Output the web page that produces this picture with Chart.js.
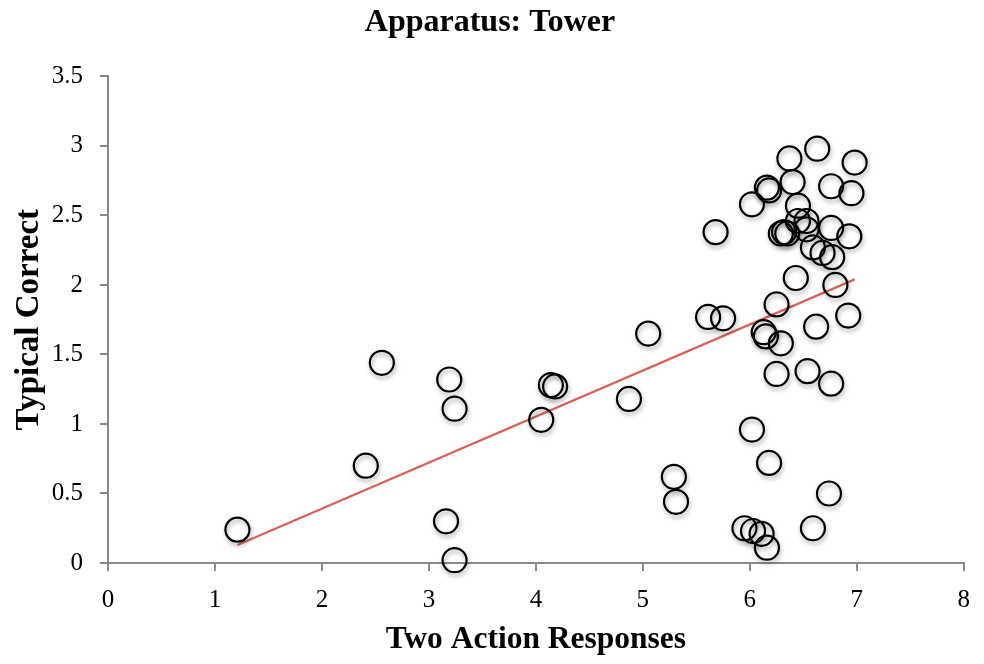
<!DOCTYPE html>
<html lang="en">
<head>
    <meta charset="UTF-8">
    <title>Apparatus: Tower</title>
    <script src="https://cdn.jsdelivr.net/npm/chart.js"></script>
    <style>
        html, body {
            margin: 0;
            padding: 0;
            background: #ffffff;
        }
        #chart {
            display: block;
        }
    </style>
</head>
<body>
    <canvas id="chart" width="984" height="664"></canvas>

    <script>
        // Two action responses (x) against typical correct (y), one entry per subject
        const twoAction = [
            1.21, 2.41, 2.56, 3.19, 3.24, 3.16, 3.24, 4.05, 4.14, 4.18,
            4.87, 5.05, 5.29, 5.31, 5.61, 5.75, 5.68, 6.02, 6.02, 6.18,
            5.95, 6.03, 6.11, 6.16, 6.13, 6.15, 6.25, 6.25, 6.29, 6.16,
            6.18, 6.37, 6.40, 6.63, 6.98, 6.76, 6.95, 6.45, 6.43, 6.62,
            6.80, 6.92, 6.76, 6.54, 6.74, 6.59, 6.93, 6.76, 6.77, 6.68,
            6.59, 6.29, 6.32, 6.35, 6.45, 6.53, 6.53
        ];
        const typicalCorrect = [
            0.24, 0.70, 1.44, 1.32, 1.11, 0.30, 0.02, 1.03, 1.28, 1.27,
            1.18, 1.65, 0.62, 0.44, 1.77, 1.76, 2.38, 2.58, 0.96, 0.72,
            0.25, 0.23, 0.21, 0.11, 1.66, 1.63, 1.86, 1.36, 1.58, 2.70,
            2.68, 2.91, 2.74, 2.98, 2.88, 2.71, 2.66, 2.57, 2.05, 1.70,
            2.00, 1.78, 1.29, 1.38, 0.50, 0.25, 2.35, 2.41, 2.20, 2.23,
            2.27, 2.37, 2.38, 2.37, 2.46, 2.46, 2.40
        ];

        // linear trend line end points
        const trendX = [1.21, 6.98];
        const trendY = [0.13, 2.04];

        const xTicks = [0, 1, 2, 3, 4, 5, 6, 7, 8];
        const yTicks = [0, 0.5, 1, 1.5, 2, 2.5, 3, 3.5];

        const points = twoAction.map((x, i) => ({ x: x, y: typicalCorrect[i] }));
        const trend = trendX.map((x, i) => ({ x: x, y: trendY[i] }));

        const axisGrey = '#8a8a8a';
        const tickFont = { family: 'Liberation Serif', size: 25 };

        // soft drop shadow under the rings
        const ringShadow = {
            id: 'ringShadow',
            beforeDatasetDraw(chart, args) {
                if (args.index !== 0) return;
                const ctx = chart.ctx;
                ctx.save();
                ctx.shadowColor = 'rgba(0, 0, 0, 0.35)';
                ctx.shadowBlur = 4;
                ctx.shadowOffsetX = 1;
                ctx.shadowOffsetY = 3;
            },
            afterDatasetDraw(chart, args) {
                if (args.index !== 0) return;
                chart.ctx.restore();
            }
        };

        // keep the title centred over the canvas, not the padded box
        const centreTitle = {
            id: 'centreTitle',
            afterLayout(chart) {
                const t = chart.titleBlock;
                if (!t) return;
                t.left = 0;
                t.right = 980;
                t.width = 980;
            }
        };

        new Chart(document.getElementById('chart'), {
            type: 'scatter',
            data: {
                datasets: [{
                    label: 'Subjects',
                    data: points,
                    pointRadius: 12,
                    pointHoverRadius: 12,
                    borderWidth: 2.2,
                    borderColor: '#000000',
                    backgroundColor: 'rgba(255, 255, 255, 0)',
                    clip: false
                }, {
                    type: 'line',
                    label: 'Trend',
                    data: trend,
                    borderColor: '#d4645a',
                    borderWidth: 2.2,
                    pointRadius: 0,
                    fill: false
                }]
            },
            options: {
                responsive: false,
                animation: false,
                devicePixelRatio: 1,
                layout: { autoPadding: false, padding: { left: 0, right: -7, top: 0, bottom: 0 } },
                plugins: {
                    legend: { display: false },
                    tooltip: { enabled: false },
                    title: {
                        display: true,
                        text: 'Apparatus: Tower',
                        color: '#000000',
                        font: { family: 'Liberation Serif', size: 32, weight: 'bold' },
                        padding: { top: 4, bottom: 34 }
                    }
                },
                scales: {
                    x: {
                        type: 'linear',
                        min: 0,
                        max: 8,
                        afterBuildTicks: s => { s.ticks = xTicks.map(v => ({ value: v })); },
                        afterFit: s => { s.height = 101; },
                        border: { display: true, color: axisGrey, width: 2 },
                        grid: { display: true, drawOnChartArea: false, drawTicks: true, tickLength: 8, color: axisGrey, lineWidth: 2 },
                        ticks: { color: '#000000', font: tickFont, padding: 14, callback: v => String(v) },
                        title: {
                            display: true,
                            text: 'Two Action Responses',
                            color: '#000000',
                            font: { family: 'Liberation Serif', size: 31.5, weight: 'bold' },
                            padding: { top: 0, bottom: 5 }
                        }
                    },
                    y: {
                        type: 'linear',
                        min: 0,
                        max: 3.5,
                        afterBuildTicks: s => { s.ticks = yTicks.map(v => ({ value: v })); },
                        afterFit: s => { s.width = 108; },
                        border: { display: true, color: axisGrey, width: 2 },
                        grid: { display: true, drawOnChartArea: false, drawTicks: true, tickLength: 8, color: axisGrey, lineWidth: 2 },
                        ticks: { color: '#000000', font: tickFont, padding: 17, callback: v => String(v) },
                        title: {
                            display: true,
                            text: 'Typical Correct',
                            color: '#000000',
                            font: { family: 'Liberation Serif', size: 33, weight: 'bold' },
                            padding: { top: 10, bottom: 0 }
                        }
                    }
                }
            },
            plugins: [ringShadow, centreTitle]
        });
    </script>
</body>
</html>
